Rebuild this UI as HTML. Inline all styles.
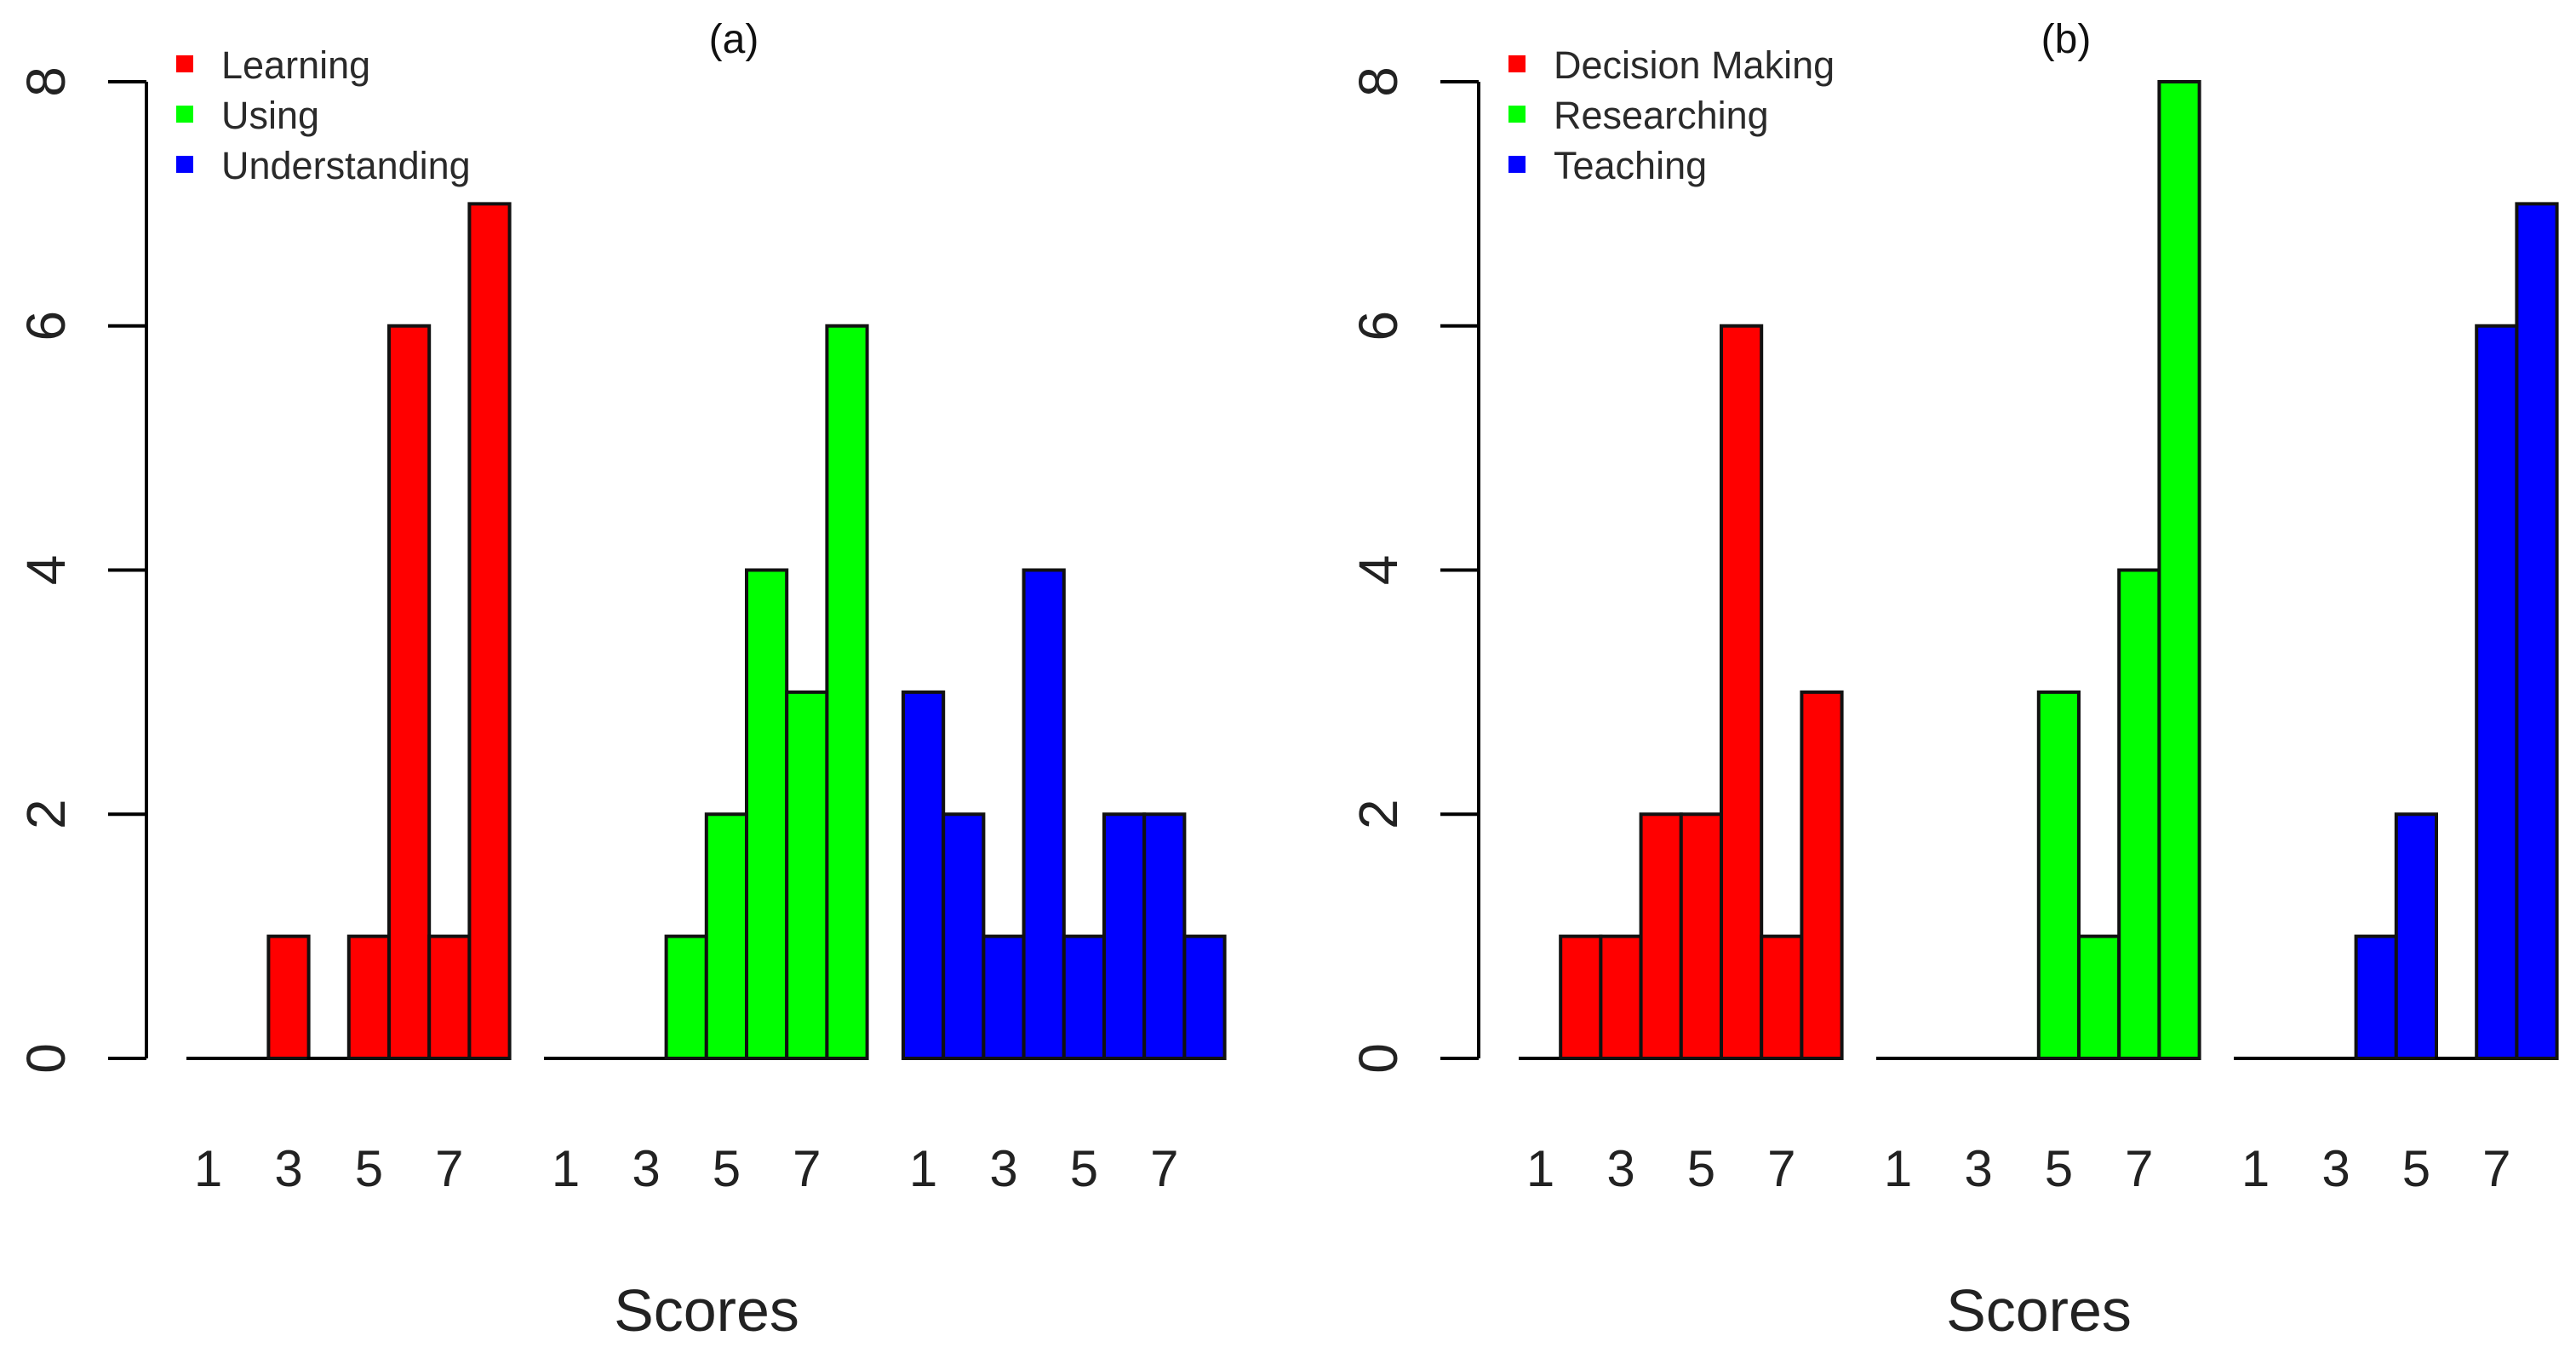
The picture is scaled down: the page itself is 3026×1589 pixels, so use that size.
<!DOCTYPE html>
<html><head><meta charset="utf-8">
<style>
html,body{margin:0;padding:0;background:#fff;}
svg{display:block;font-family:"Liberation Sans",sans-serif;}
</style></head>
<body>
<svg id="chart" width="3026" height="1589" viewBox="0 0 3026 1589" xmlns="http://www.w3.org/2000/svg"></svg>
<script>
// ----- data -----
const binLabels = ["1","3","5","7"];
const binLabelIdx = [0,2,4,6];
const yTicks = [0,2,4,6,8];
const panelTitles = ["(a)","(b)"];
const seriesNamesA = ["Learning","Using","Understanding"];
const seriesNamesB = ["Decision Making","Researching","Teaching"];
const learning = [0,0,1,0,1,6,1,7];
const using = [0,0,0,1,2,4,3,6];
const understanding = [3,2,1,4,1,2,2,1];
const decisionMaking = [0,1,1,2,2,6,1,3];
const researching = [0,0,0,0,3,1,4,8];
const teaching = [0,0,0,1,2,0,6,7];
const colors = ["#ff0000","#00ff00","#0000ff"];

// ----- layout -----
const svg = document.getElementById('chart');
const NS = "http://www.w3.org/2000/svg";
const y0 = 1243, yTop = 96, yMax = 8;
const yS = v => y0 - (y0 - yTop) * v / yMax;
const panelOffset = 1565, axisX = 172, firstBar = 221, barW = 47.2, groupGap = 420;
const xS = (p, g, i) => firstBar + p*panelOffset + g*groupGap + i*barW;

function mk(tag, attrs, parent){
  const e = document.createElementNS(NS, tag);
  for (const k in attrs) e.setAttribute(k, attrs[k]);
  (parent||svg).appendChild(e);
  return e;
}

const panels = [
  {names: seriesNamesA, data: [learning, using, understanding], keys:["learning","using","understanding"]},
  {names: seriesNamesB, data: [decisionMaking, researching, teaching], keys:["decision-making","researching","teaching"]}
];

panels.forEach((pn, p) => {
  const off = p*panelOffset;
  const pg = mk('g', {});
  
  

  const ax = mk('g', {}, pg);
  
  
  mk('line', {x1: axisX+off, x2: axisX+off, y1: yS(8), y2: yS(0), stroke:"#000", "stroke-width":4}, ax);
  yTicks.forEach(t => {
    mk('line', {x1: axisX+off-45, x2: axisX+off, y1: yS(t), y2: yS(t), stroke:"#000", "stroke-width":4}, ax);
    const tx = mk('text', {x: 0, y: 0, "font-size":64, fill:"#222", "text-anchor":"middle",
      transform:`translate(${76+off},${yS(t)}) rotate(-90)`}, ax);
    
    
    tx.textContent = t;
  });

  pn.data.forEach((arr, g) => {
    const gg = mk('g', {}, pg);
    
    
    arr.forEach((v, i) => {
      const x = xS(p, g, i);
      if (v === 0) {
        const l = mk('line', {x1:x-2, x2:x+barW+2, y1:y0, y2:y0, stroke:"#000", "stroke-width":4}, gg);
        
        
      } else {
        const r = mk('rect', {x:x, y:yS(v), width:barW, height:y0-yS(v), fill:colors[g], stroke:"#111", "stroke-width":4}, gg);
        
        
      }
    });
    binLabelIdx.forEach((bi, k) => {
      const t = mk('text', {x: xS(p,g,bi)+barW/2, y: 1393, "font-size":60, fill:"#222", "text-anchor":"middle"}, gg);
      
      
      t.textContent = binLabels[k];
    });
  });

  const xt = mk('text', {x: 830+off, y: 1563, "font-size":70, fill:"#222", "text-anchor":"middle"}, pg);
  
  
  xt.textContent = "Scores";

  const pt = mk('text', {x: 862+off, y: 62, "font-size":48, fill:"#111", "text-anchor":"middle"}, pg);
  
  
  pt.textContent = panelTitles[p];

  const lg = mk('g', {}, pg);
  
  
  pn.names.forEach((nm, g) => {
    const cy = 76 + g*59;
    const e = mk('g', {}, lg);
    
    
    mk('rect', {x: 207+off, y: cy-11, width: 20, height: 20, fill: colors[g]}, e);
    const t = mk('text', {x: 260+off, y: cy+16, "font-size":45, fill:"#2a2a2a"}, e);
    t.textContent = nm;
  });
});
</script>
</body></html>
